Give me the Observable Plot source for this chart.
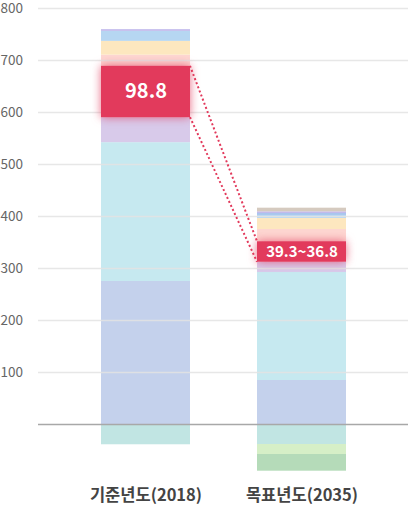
<!DOCTYPE html>
<html>
<head>
<meta charset="utf-8">
<script src="https://cdn.jsdelivr.net/npm/d3@7"></script>
<script src="https://cdn.jsdelivr.net/npm/@observablehq/plot@0.6"></script>
<style>
  html, body { margin: 0; padding: 0; background: #fff; }
  #chart svg { display: block; }
</style>
</head>
<body>
<div id="chart"></div>
<script>
// ---- data ----
const years = ["기준년도(2018)", "목표년도(2035)"];
const sectors = ["전환", "산업", "건물", "수송", "농축수산", "폐기물", "수소", "탈루", "기타", "신규", "흡수원", "CCUS", "국외감축"];
const sectorColors = ["#c4d1ec", "#c6e9f0", "#d8caea", "#e23a5c", "#fdd6d1", "#fde7bf", "#b6d6f2", "#a8c6ee", "#c2b9ec", "#d5cabf", "#c1e5e3", "#d6efc7", "#b5dbb9"];
const values2018 = [275, 267, 48, 98.8, 21.5, 26.5, 19.2, 0, 3.3, 0, -39, 0, 0];
const values2035 = [84.6, 207.7, 19.8, 39.3, 23.6, 21.2, 5.8, 3.8, 3.2, 7, -38.5, -19.2, -32.1];
const highlightSector = "수송";
const highlightLabels = ["98.8", "39.3~36.8"];
const highlightFontSizes = [20, 15];
const yTicks = [100, 200, 300, 400, 500, 600, 700, 800];

const RED = "#e23a5c";
const seriesValues = [values2018, values2035];
const rows = years.flatMap((year, i) =>
  sectors.map((s, j) => ({
    year, sector: s, value: seriesValues[i][j], color: sectorColors[j],
    label: s === highlightSector ? highlightLabels[i] : "",
    fs: highlightFontSizes[i]
  }))
).filter(d => d.value !== 0);

const chart = Plot.plot({
  width: 408,
  height: 512,
  marginLeft: 38,
  marginRight: 0,
  marginTop: 8,
  marginBottom: 36,
  style: { fontFamily: "'Noto Sans CJK KR', 'Noto Sans', sans-serif", background: "#fff", overflow: "visible" },
  x: { type: "band", domain: years, paddingInner: 0.43, paddingOuter: 0.4, axis: null },
  y: { domain: [-100, 800], axis: null },
  color: { type: "identity" },
  marks: [
    Plot.barY(rows, { x: "year", y: "value", fill: "color" }),
    Plot.ruleY(yTicks, { stroke: "#e3e3e3", strokeWidth: 1.5, strokeOpacity: 0.85 }),
    Plot.ruleY([0], { stroke: "#a8a8a8", strokeWidth: 1.5 }),
    Plot.text(yTicks, { y: d => d, frameAnchor: "left", dx: -38, dy: 0.5, textAnchor: "start", fill: "#666", fontSize: 13.5 }),
    Plot.text(years, { x: d => d, frameAnchor: "bottom", dy: 24, fill: "#444", fontSize: 16.5, fontWeight: 600 }),
    Plot.text(rows, Plot.stackY({ x: "year", y: "value", text: "label", fill: "#fff", fontSize: "fs", fontWeight: 700 }))
  ]
});

document.getElementById("chart").appendChild(chart);

// ---- highlight: glow, connectors ----
const svgSel = d3.select(chart);
const redRects = svgSel.selectAll("rect")
  .filter(function () {
    const f = (this.getAttribute("fill") || "").toLowerCase();
    return f === RED || f === "rgb(226, 58, 92)";
  })
  .nodes();

const hlGroup = svgSel.append("g").attr("class", "highlight");
const box = r => ({
  x: +r.getAttribute("x"), y: +r.getAttribute("y"),
  w: +r.getAttribute("width"), h: +r.getAttribute("height")
});
if (redRects.length >= 2) {
  const bs = redRects.map(box).sort((p, q) => p.x - q.x);
  const a = bs[0], b = bs[1];
  const links = [
    [a.x + a.w, a.y, b.x, b.y],
    [a.x + a.w, a.y + a.h, b.x, b.y + b.h]
  ];
  hlGroup.selectAll("line").data(links).join("line")
    .attr("x1", d => d[0]).attr("y1", d => d[1])
    .attr("x2", d => d[2]).attr("y2", d => d[3])
    .attr("stroke", RED).attr("stroke-width", 2)
    .attr("stroke-dasharray", "2 2.4");
}
redRects.forEach(r => {
  r.style.filter = "drop-shadow(0 0 5px rgba(226,58,92,0.75))";
  hlGroup.node().appendChild(r);
});
svgSel.selectAll("g[aria-label=text]").raise();
</script>
</body>
</html>
